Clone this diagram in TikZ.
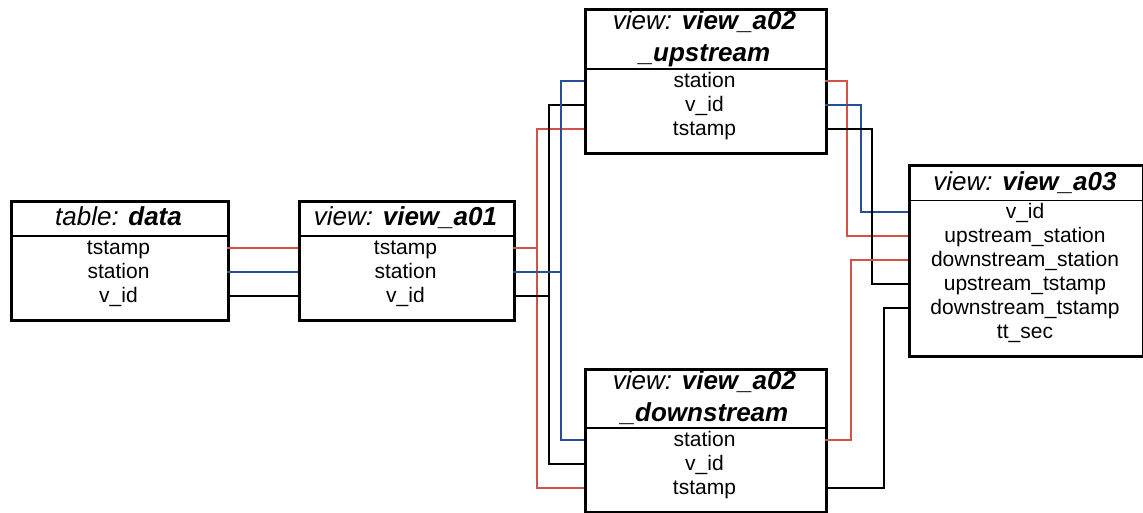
\documentclass[tikz,border=0pt]{standalone}
\usepackage{fontspec}
\setmainfont{Liberation Sans}
\definecolor{linkred}{RGB}{210,82,72}
\definecolor{linkblue}{RGB}{40,78,150}
\begin{document}
\begin{tikzpicture}[x=1pt,y=-1pt,
  box/.style={draw, line width=2.8pt, inner sep=0, anchor=north west},
  titletext/.style={font=\fontsize{26}{30}\selectfont, inner sep=0, anchor=base},
  fieldrow/.style={inner sep=0, minimum height=24, font=\fontsize{21}{24}\selectfont, text height=16.5, text depth=3.5},
  headsep/.style={line width=1.4pt},
  conn/.style={line width=1.4pt},
  cred/.style={conn, draw=linkred},
  cblue/.style={conn, draw=linkblue},
  cblack/.style={conn, draw=black}]
\useasboundingbox (0,0) rectangle (1143,512);

% ---- table data
\node[box, minimum width=217, minimum height=119] (data) at (10,200) {};
\draw[headsep] (10,236) -- (227,236);
\node[titletext] (data-t) at (118.5,225) {\textit{table: \textbf{data}}};
\node[fieldrow, minimum width=217] (data-ts) at (118.5,248) {tstamp};
\node[fieldrow, minimum width=217] (data-st) at (118.5,272) {station};
\node[fieldrow, minimum width=217] (data-vid) at (118.5,296) {v\_id};

% ---- view a01
\node[box, minimum width=215, minimum height=119] (a01) at (298,200) {};
\draw[headsep] (298,236) -- (513,236);
\node[titletext] (a01-t) at (405.5,225) {\textit{view: \textbf{view\_a01}}};
\node[fieldrow, minimum width=215] (a01-ts) at (405.5,248) {tstamp};
\node[fieldrow, minimum width=215] (a01-st) at (405.5,272) {station};
\node[fieldrow, minimum width=215] (a01-vid) at (405.5,296) {v\_id};

% ---- view a02 upstream
\node[box, minimum width=241, minimum height=144] (up) at (584,8) {};
\draw[headsep] (584,69) -- (825,69);
\node[titletext] (up-t1) at (704.5,29) {\textit{view: \textbf{view\_a02}}};
\node[titletext] (up-t2) at (704.5,61) {\textit{\textbf{\_upstream}}};
\node[fieldrow, minimum width=241] (up-st) at (704.5,81) {station};
\node[fieldrow, minimum width=241] (up-vid) at (704.5,105) {v\_id};
\node[fieldrow, minimum width=241] (up-ts) at (704.5,129) {tstamp};

% ---- view a02 downstream
\node[box, minimum width=241, minimum height=143] (dn) at (584,368) {};
\draw[headsep] (584,428) -- (825,428);
\node[titletext] (dn-t1) at (704.5,389) {\textit{view: \textbf{view\_a02}}};
\node[titletext] (dn-t2) at (704.5,421) {\textit{\textbf{\_downstream}}};
\node[fieldrow, minimum width=241] (dn-st) at (704.5,440) {station};
\node[fieldrow, minimum width=241] (dn-vid) at (704.5,464) {v\_id};
\node[fieldrow, minimum width=241] (dn-ts) at (704.5,488) {tstamp};

% ---- view a03
\node[box, minimum width=234, minimum height=191] (a03) at (908,164) {};
\draw[headsep] (908,200.5) -- (1142,200.5);
\node[titletext] (a03-t) at (1025,190) {\textit{view: \textbf{view\_a03}}};
\node[fieldrow, minimum width=234] (a03-vid) at (1025,212) {v\_id};
\node[fieldrow, minimum width=234] (a03-ust) at (1025,236) {upstream\_station};
\node[fieldrow, minimum width=234] (a03-dst) at (1025,260) {downstream\_station};
\node[fieldrow, minimum width=234] (a03-uts) at (1025,284) {upstream\_tstamp};
\node[fieldrow, minimum width=234] (a03-dts) at (1025,308) {downstream\_tstamp};
\node[fieldrow, minimum width=234] (a03-tt) at (1025,332) {tt\_sec};

% ---- bus coordinates
\coordinate (rA) at (537,0);
\coordinate (kA) at (549,0);
\coordinate (bA) at (561,0);
\coordinate (rB) at (847,0);
\coordinate (bB) at (861,0);
\coordinate (kB) at (872,0);
\coordinate (rC) at (851,0);
\coordinate (kC) at (884,0);

% ---- data -> a01
\draw[cred] (data-ts.east) -- (a01-ts.west);
\draw[cblue] (data-st.east) -- (a01-st.west);
\draw[cblack] (data-vid.east) -- (a01-vid.west);

% ---- a01 -> a02 views
\draw[cred] (a01-ts.east) -- (a01-ts.east -| rA) |- (up-ts.west);
\draw[cred] (a01-ts.east -| rA) |- (dn-ts.west);
\draw[cblack] (a01-vid.east) -- (a01-vid.east -| kA) |- (up-vid.west);
\draw[cblack] (a01-vid.east -| kA) |- (dn-vid.west);
\draw[cblue] (a01-st.east) -- (a01-st.east -| bA) |- (up-st.west);
\draw[cblue] (a01-st.east -| bA) |- (dn-st.west);

% ---- a02 views -> a03
\draw[cred] (up-st.east) -- (up-st.east -| rB) |- (a03-ust.west);
\draw[cblue] (up-vid.east) -- (up-vid.east -| bB) |- (a03-vid.west);
\draw[cblack] (up-ts.east) -- (up-ts.east -| kB) |- (a03-uts.west);
\draw[cred] (dn-st.east) -- (dn-st.east -| rC) |- (a03-dst.west);
\draw[cblack] (dn-ts.east) -- (dn-ts.east -| kC) |- (a03-dts.west);
\end{tikzpicture}
\end{document}
